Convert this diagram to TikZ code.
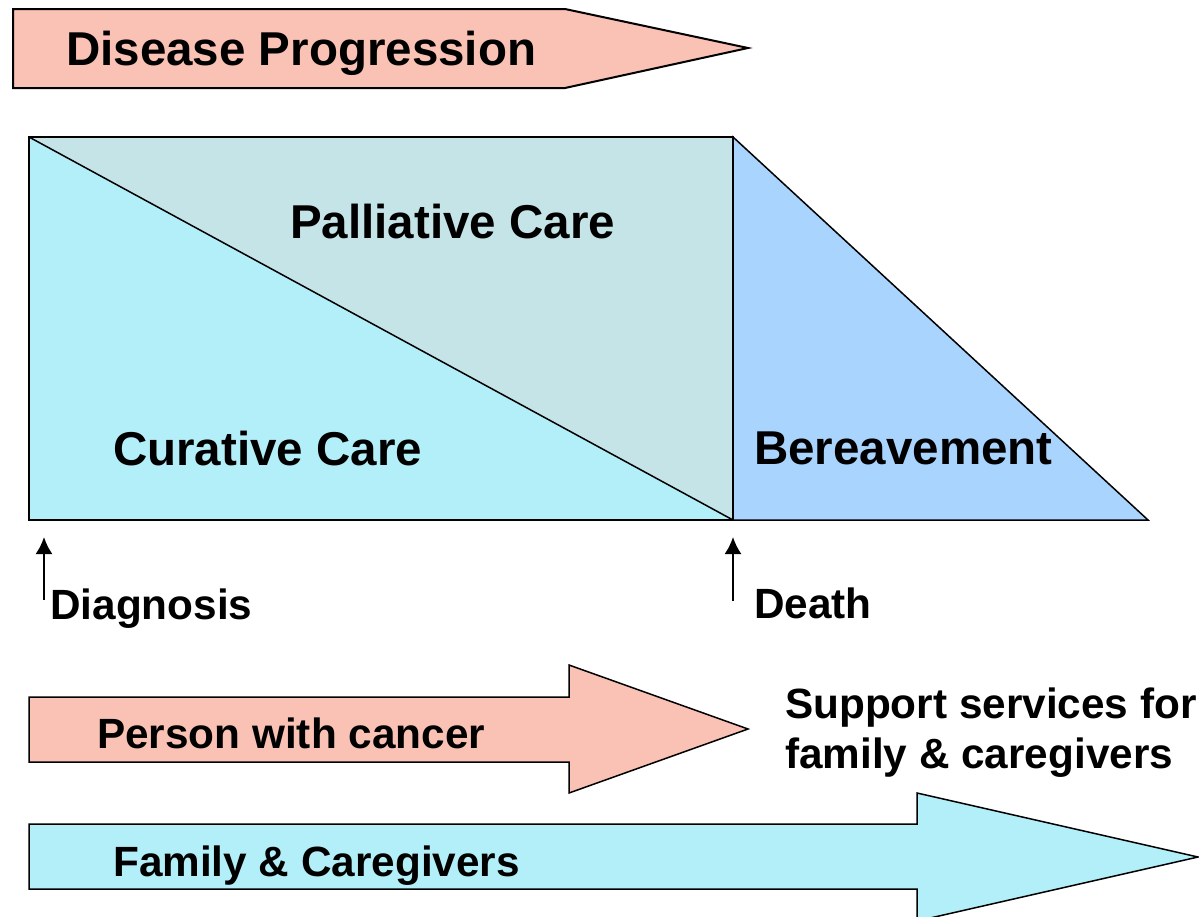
\documentclass[tikz,border=0pt]{standalone}
\usepackage{fontspec}
\setmainfont{Liberation Sans}
\usepackage{xcolor}
\usetikzlibrary{arrows.meta}
\definecolor{progpink}{HTML}{FAC1B5}
\definecolor{curecyan}{HTML}{B3EFF8}
\definecolor{pallgray}{HTML}{C5E4E8}
\definecolor{bereblue}{HTML}{A9D4FE}
\newcommand{\bigtxt}{\fontsize{47.5}{57}\selectfont\bfseries}
\newcommand{\smalltxt}{\fontsize{42.3}{53}\selectfont\bfseries}

\begin{document}
\begin{tikzpicture}[x=1pt, y=-1pt, lbl/.style={inner sep=0, anchor=base west}]
\useasboundingbox (0,0) rectangle (1199,916);

\filldraw[fill=progpink, line width=2] (13,9) -- (565,9) -- (748,48) -- (565,88) -- (13,88) -- cycle;

\fill[curecyan] (29,137) -- (733,520) -- (29,520) -- cycle;
\fill[pallgray] (29,137) -- (733,137) -- (733,520) -- cycle;
\filldraw[fill=bereblue, line width=1.5] (733,137) -- (1148,520) -- (733,520) -- cycle;
\draw[line width=1.5] (29,137) -- (733,520);
\draw[line width=2] (29,137) rectangle (733,520);

\filldraw[fill=progpink, line width=1.5] (29,697) -- (569,697) -- (569,665) -- (748,729) -- (569,793) -- (569,762) -- (29,762) -- cycle;
\filldraw[fill=curecyan, line width=1.5] (29,824) -- (917,824) -- (917,793) -- (1198,857) -- (917,921) -- (917,889) -- (29,889) -- cycle;

\node[lbl] (prog) at (66,65) {\bigtxt Disease Progression};
\node[lbl] (pall) at (290,238) {\bigtxt Palliative Care};
\node[lbl] (cure) at (113,465) {\bigtxt Curative Care};
\node[lbl] (bere) at (754,464) {\bigtxt Bereavement};
\node[lbl] (diag) at (50,619) {\smalltxt Diagnosis};
\node[lbl] (death) at (754,618) {\smalltxt Death};
\node[lbl] (person) at (97,748) {\smalltxt Person with cancer};
\node[lbl] (family) at (113,876) {\smalltxt Family \& Caregivers};
\node[lbl] (support) at (785,718) {\smalltxt Support services for};
\node[lbl] (carers) at (785,768) {\smalltxt family \& caregivers};

\foreach \n/\x/\y in {diag/44/600, death/733/601}
  \coordinate (\n foot) at (\x,\y);
\foreach \n/\x in {diag/44, death/733}
  \coordinate (\n tip) at (\x,537);
\foreach \n in {diag, death}
  \draw[line width=2, -{Latex[length=17,width=17]}] (\n foot) -- (\n tip);

\end{tikzpicture}
\end{document}
